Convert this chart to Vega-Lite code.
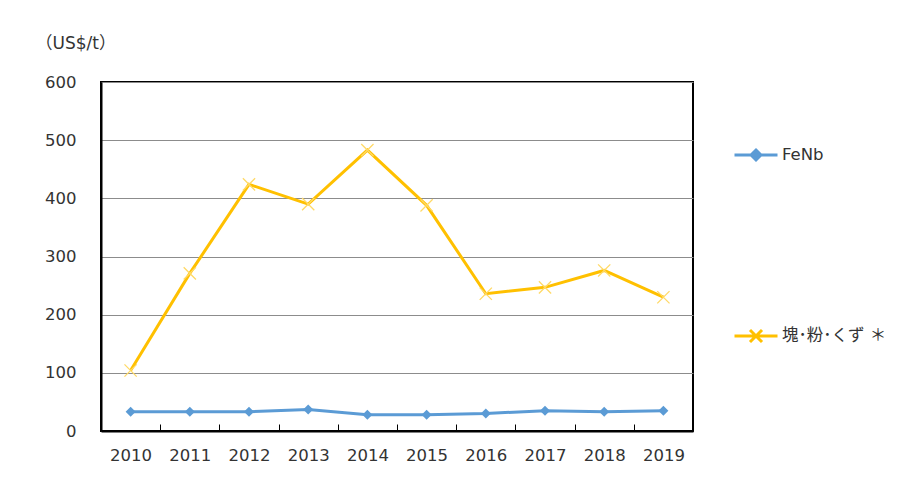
{
  "$schema": "https://vega.github.io/schema/vega-lite/v6.json",
  "width": 592,
  "height": 349,
  "autosize": {"type": "none"},
  "padding": {"left": 101, "top": 82, "right": 226, "bottom": 51},
  "background": "white",
  "config": {
    "view": {"stroke": "black", "strokeWidth": 2},
    "font": "DejaVu Sans"
  },
  "data": {
    "values": [
      {"year": "2010", "series": "FeNb", "price": 33},
      {"year": "2011", "series": "FeNb", "price": 33},
      {"year": "2012", "series": "FeNb", "price": 33},
      {"year": "2013", "series": "FeNb", "price": 37},
      {"year": "2014", "series": "FeNb", "price": 28},
      {"year": "2015", "series": "FeNb", "price": 28},
      {"year": "2016", "series": "FeNb", "price": 30},
      {"year": "2017", "series": "FeNb", "price": 35},
      {"year": "2018", "series": "FeNb", "price": 33},
      {"year": "2019", "series": "FeNb", "price": 35},
      {"year": "2010", "series": "塊･粉･くず ＊", "price": 104},
      {"year": "2011", "series": "塊･粉･くず ＊", "price": 271},
      {"year": "2012", "series": "塊･粉･くず ＊", "price": 424},
      {"year": "2013", "series": "塊･粉･くず ＊", "price": 390},
      {"year": "2014", "series": "塊･粉･くず ＊", "price": 483},
      {"year": "2015", "series": "塊･粉･くず ＊", "price": 388},
      {"year": "2016", "series": "塊･粉･くず ＊", "price": 236},
      {"year": "2017", "series": "塊･粉･くず ＊", "price": 247},
      {"year": "2018", "series": "塊･粉･くず ＊", "price": 276},
      {"year": "2019", "series": "塊･粉･くず ＊", "price": 230}
    ]
  },
  "encoding": {
    "x": {
      "field": "year", "type": "ordinal", "bandPosition": 0.5,
      "scale": {"type": "band", "paddingInner": 0, "paddingOuter": 0},
      "axis": {
        "title": null, "labelAngle": 0, "domainColor": "black", "domainWidth": 2,
        "tickBand": "extent", "tickColor": "black", "tickWidth": 1, "tickSize": -7,
        "labelFontSize": 16.5, "labelColor": "#333", "labelPadding": 23, "labelFont": "DejaVu Sans"
      }
    },
    "y": {
      "field": "price", "type": "quantitative",
      "scale": {"domain": [0, 600], "nice": false},
      "axis": {
        "values": [0, 100, 200, 300, 400, 500, 600],
        "title": "（US$/t）", "titleAngle": 0, "titleAlign": "left", "titleBaseline": "middle",
        "titleX": -66, "titleY": -39, "titleFontSize": 17, "titleFontWeight": "normal", "titleColor": "#333",
        "titleFont": "DejaVu Sans, Noto Sans CJK JP",
        "ticks": false, "domainColor": "black", "domainWidth": 2,
        "grid": true, "gridColor": "#8c8c8c", "gridWidth": 1,
        "labelFontSize": 16.5, "labelColor": "#333", "labelPadding": 25, "labelFont": "DejaVu Sans"
      }
    }
  },
  "layer": [
    {
      "mark": {"type": "line", "strokeWidth": 3},
      "encoding": {
        "color": {
          "field": "series", "type": "nominal",
          "scale": {"domain": ["FeNb", "塊･粉･くず ＊"], "range": ["#5B9BD5", "#FFC000"]},
          "legend": {
            "title": null, "orient": "none", "legendX": 632, "legendY": 50,
            "padding": 0, "symbolSize": 1849, "rowPadding": 147,
            "labelFontSize": 16.5, "labelFont": "DejaVu Sans, Noto Sans CJK JP", "labelColor": "#333",
            "labelOffset": 3, "symbolStrokeWidth": 3,
            "encode": {
              "symbols": {
                "update": {
                  "shape": {"signal": "datum.value === 'FeNb' ? 'M-1,0H1M0,-0.23L0.23,0L0,0.23L-0.23,0Z' : 'M-1,0H1M-0.28,-0.28L0.28,0.28M-0.28,0.28L0.28,-0.28'"},
                  "fill": {"signal": "datum.value === 'FeNb' ? '#5B9BD5' : 'transparent'"},
                  "strokeWidth": {"value": 3}
                }
              }
            }
          }
        }
      }
    },
    {
      "transform": [{"filter": "datum.series === 'FeNb'"}],
      "mark": {"type": "point", "shape": "diamond", "filled": true, "size": 100, "color": "#5B9BD5", "opacity": 1}
    },
    {
      "transform": [{"filter": "datum.series !== 'FeNb'"}],
      "mark": {"type": "point", "shape": "M-1,-1L1,1M-1,1L1,-1", "filled": false, "size": 150, "color": "#FFD966", "strokeWidth": 1.3, "opacity": 1}
    }
  ]
}
